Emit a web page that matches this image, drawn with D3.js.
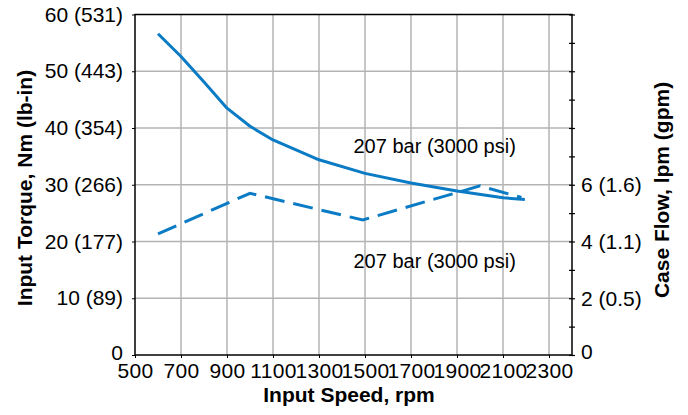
<!DOCTYPE html>
<html>
<head>
<meta charset="utf-8">
<script src="https://cdn.jsdelivr.net/npm/d3@7"></script>
<style>
  body { margin: 0; background: #fff; }
  svg { font-family: "Liberation Sans", Arial, sans-serif; }
</style>
</head>
<body>
<div id="app"></div>
<script>
// torque curve, 207 bar (3000 psi)
let torqueRpm = [600, 700, 800, 900, 1000, 1100, 1300, 1500, 1700, 1900, 2100, 2195];
let torqueNm  = [56.6, 52.6, 48.1, 43.5, 40.3, 37.9, 34.4, 32.0, 30.3, 28.9, 27.7, 27.4];

// case flow curve, 207 bar (3000 psi)
let flowRpm = [600, 1000, 1490, 2000, 2180];
let flowLpm = [4.27, 5.7, 4.76, 5.96, 5.55];

let xTicks = [500, 700, 900, 1100, 1300, 1500, 1700, 1900, 2100, 2300];
let leftTicks = [0, 10, 20, 30, 40, 50, 60];
let leftTickLabels = ['0', '10 (89)', '20 (177)', '30 (266)', '40 (354)', '50 (443)', '60 (531)'];
let rightTicks = [0, 2, 4, 6];
let rightTickLabels = ['0', '2 (0.5)', '4 (1.1)', '6 (1.6)'];

let width = 688;
let height = 415;
let margin = {top: 14.5, right: 116, bottom: 60, left: 135};
let blue = '#0a7bc4';

let svg = d3.select('#app').append('svg')
            .attr('width', width)
            .attr('height', height)

let xScale = d3.scaleLinear()
               .domain([500, 2400])
               .range([margin.left, width - margin.right])

let yScale = d3.scaleLinear()
               .domain([0, 60])
               .range([height - margin.bottom, margin.top])

let y2Scale = d3.scaleLinear()
                .domain([0, 12])
                .range([height - margin.bottom, margin.top])

// grid
svg.append('g')
  .selectAll('line')
    .data(xTicks.slice(1))
    .enter()
    .append('line')
      .attr('x1', d => xScale(d))
      .attr('x2', d => xScale(d))
      .attr('y1', yScale(0))
      .attr('y2', yScale(60))
      .style('stroke', '#b3b3b3')
      .style('stroke-width', 1.5)

svg.append('g')
  .selectAll('line')
    .data(leftTicks.slice(1, -1))
    .enter()
    .append('line')
      .attr('x1', xScale(500))
      .attr('x2', xScale(2400))
      .attr('y1', d => yScale(d))
      .attr('y2', d => yScale(d))
      .style('stroke', '#b3b3b3')
      .style('stroke-width', 1.5)

// frame
svg.append('rect')
   .attr('x', xScale(500))
   .attr('y', yScale(60))
   .attr('width', xScale(2400) - xScale(500))
   .attr('height', yScale(0) - yScale(60))
   .style('fill', 'none')
   .style('stroke', '#000')
   .style('stroke-width', 1.5)

// left axis
let leftAxis = d3.axisLeft(yScale)
                 .tickValues(leftTicks)
                 .tickSize(3)
                 .tickPadding(9)
                 .tickFormat((d, i) => leftTickLabels[i])

svg.append('g')
   .attr('transform', 'translate(' + xScale(500) + ',0)')
   .call(leftAxis)
   .call(g => g.select('.domain').remove())
   .call(g => g.selectAll('text').style('font-size', '21px').style('fill', '#000'))
   .call(g => g.selectAll('.tick').filter(d => d === 0).select('text').attr('dy', '0.2em'))

// bottom axis
let bottomAxis = d3.axisBottom(xScale)
                   .tickValues(xTicks)
                   .tickSize(3)
                   .tickPadding(5)
                   .tickFormat(d3.format('d'))

svg.append('g')
   .attr('transform', 'translate(0,' + yScale(0) + ')')
   .call(bottomAxis)
   .call(g => g.select('.domain').remove())
   .call(g => g.selectAll('text').style('font-size', '21px').style('fill', '#000').style('letter-spacing', '0.3px'))

// right axis: minor ticks every 1 lpm, labels at 0..6
let rightAxis = d3.axisRight(y2Scale)
                  .tickValues(d3.range(0, 13))
                  .tickSizeInner(3)
                  .tickSizeOuter(0)
                  .tickFormat('')

let rAxis = svg.append('g')
   .attr('transform', 'translate(' + xScale(2400) + ',0)')
   .call(rightAxis)
rAxis.select('.domain').remove()
rAxis.selectAll('.tick line').attr('x1', -3).style('stroke-width', 1.2)

svg.append('g')
  .selectAll('text')
    .data(rightTicks)
    .enter()
    .append('text')
      .attr('x', xScale(2400) + 9)
      .attr('y', d => y2Scale(d))
      .attr('dy', d => d === 0 ? '0.2em' : '0.35em')
      .style('font-size', '21px')
      .text((d, i) => rightTickLabels[i])

// lines
let torqueLine = d3.line()
                   .x((d, i) => xScale(torqueRpm[i]))
                   .y(d => yScale(d))

svg.append('path')
   .datum(torqueNm)
   .attr('d', torqueLine)
   .style('fill', 'none')
   .style('stroke', blue)
   .style('stroke-width', 3)
   .style('stroke-linejoin', 'round')

let flowLine = d3.line()
                 .x((d, i) => xScale(flowRpm[i]))
                 .y(d => y2Scale(d))

svg.append('path')
   .datum(flowLpm)
   .attr('d', flowLine)
   .style('fill', 'none')
   .style('stroke', blue)
   .style('stroke-width', 3)
   .style('stroke-dasharray', '20,9')

// annotations
svg.append('text')
   .attr('x', xScale(1450))
   .attr('y', yScale(35.6))
   .style('font-size', '20px')
   .text('207 bar (3000 psi)')

svg.append('text')
   .attr('x', xScale(1450))
   .attr('y', yScale(15.4))
   .style('font-size', '20px')
   .text('207 bar (3000 psi)')

// axis titles
svg.append('text')
   .attr('x', 349)
   .attr('y', 402)
   .attr('text-anchor', 'middle')
   .style('font-size', '21px')
   .style('font-weight', 'bold')
   .text('Input Speed, rpm')

svg.append('text')
   .attr('transform', 'translate(32,188) rotate(-90)')
   .attr('text-anchor', 'middle')
   .style('font-size', '21px')
   .style('font-weight', 'bold')
   .text('Input Torque, Nm (lb-in)')

svg.append('text')
   .attr('transform', 'translate(669,190) rotate(-90)')
   .attr('text-anchor', 'middle')
   .style('font-size', '21px')
   .style('font-weight', 'bold')
   .text('Case Flow, lpm (gpm)')
</script>
</body>
</html>
